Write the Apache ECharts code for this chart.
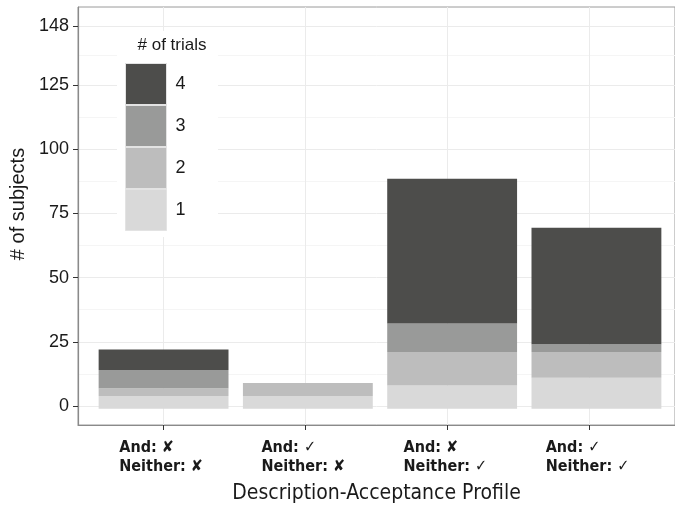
<!DOCTYPE html>
<html>
<head>
<meta charset="utf-8">
<script src="https://cdn.jsdelivr.net/npm/echarts@6/dist/echarts.min.js"></script>
<style>html,body{margin:0;padding:0;background:#fff;}#c{width:675px;height:509px;}</style>
</head>
<body>
<div id="c"></div>
<script>
// ---- data ----
const categories = ['And: ✘\nNeither: ✘', 'And: ✓\nNeither: ✘', 'And: ✘\nNeither: ✓', 'And: ✓\nNeither: ✓'];
const trialLevels = ['1', '2', '3', '4'];
const trials1 = [5, 5, 9, 12];
const trials2 = [3, 5, 13, 10];
const trials3 = [7, 0, 11, 3];
const trials4 = [8, 0, 56, 45];
const yTicks = [0, 25, 50, 75, 100, 125, 148];
const yMinorTicks = [12.5, 37.5, 62.5, 87.5, 112.5, 136.5];
const xTitle = 'Description-Acceptance Profile';
const yTitle = '# of subjects';
const legendTitle = '# of trials';

const layers = [trials1, trials2, trials3, trials4];
const colors = ['#d9d9d9', '#bdbdbd', '#999a99', '#4d4d4b'];
const xPos = categories.map((_, i) => i + 1);

// panel geometry (ggplot-style discrete expansion of 0.6 category each side)
const W = 675, PANEL_L = 77, PANEL_R = 683, PANEL_T = 7, PANEL_B = 428;
const step = (PANEL_R - PANEL_L) / 4.2;
const barL = PANEL_L + 0.1 * step;
const barR = PANEL_R - 0.1 * step;

const chart = echarts.init(document.getElementById('c'), null, {renderer: 'canvas'});
const labelFont = '"DejaVu Sans Condensed", "DejaVu Sans", sans-serif';
const numFont = '"Liberation Sans", Arial, sans-serif';
const yMin = -7.4, yMax = 155.4;

const option = {
  animation: false,
  backgroundColor: '#ffffff',
  grid: [
    {
      left: PANEL_L, top: PANEL_T, right: W - PANEL_R, bottom: 509 - PANEL_B,
      show: true, borderColor: '#9a9a9a', borderWidth: 1, backgroundColor: '#ffffff'
    },
    {
      left: barL, top: PANEL_T, right: W - barR, bottom: 509 - PANEL_B
    }
  ],
  graphic: [
    { type: 'rect', z: 3, shape: {x: 117, y: 31, width: 101, height: 206}, style: {fill: '#ffffff'} },
    { type: 'text', z: 5, x: 172, y: 37, style: {text: legendTitle, fill: '#1a1a1a', font: '17px ' + numFont, textAlign: 'center', textVerticalAlign: 'top'} }
  ],
  legend: {
    z: 6,
    data: ['4', '3', '2', '1'],
    orient: 'vertical',
    left: 125, top: 63,
    padding: 0,
    itemWidth: 41, itemHeight: 41, itemGap: 0,
    icon: 'rect',
    itemStyle: {borderColor: '#e3e3e3', borderWidth: 1},
    textStyle: {fontFamily: numFont, fontSize: 18, color: '#1a1a1a', padding: [0, 0, 0, 4]}
  },
  xAxis: [
    {
      gridIndex: 0, type: 'value', min: 0.4, max: 4.6,
      name: xTitle, nameLocation: 'middle', nameGap: 58,
      nameTextStyle: {fontFamily: labelFont, fontSize: 21, color: '#1a1a1a'},
      axisLine: {show: true, onZero: false, lineStyle: {color: '#8a8a8a', width: 1.2}},
      axisTick: {show: true, customValues: xPos, length: 5, lineStyle: {color: '#333'}},
      axisLabel: {
        customValues: xPos, margin: 13,
        formatter: v => categories[Math.round(v) - 1].split('\n').map(s => '{a|' + s + '}').join('\n'),
        rich: {a: {width: 88, align: 'left', fontFamily: labelFont, fontSize: 16, fontWeight: 'bold', lineHeight: 19, color: '#1a1a1a'}}
      },
      splitLine: {show: true, lineStyle: {color: '#ebebeb', width: 1}}
    },
    {
      gridIndex: 1, type: 'category', data: categories, show: false
    }
  ],
  yAxis: [
    {
      gridIndex: 0, type: 'value', min: yMin, max: yMax,
      name: yTitle, nameLocation: 'middle', nameGap: 50, nameRotate: 90,
      nameTextStyle: {fontFamily: numFont, fontSize: 20, color: '#1a1a1a', padding: [0, 0, 0, 24]},
      axisLine: {show: true, lineStyle: {color: '#8a8a8a', width: 1.2}},
      axisTick: {show: true, customValues: yTicks, length: 5, lineStyle: {color: '#333'}},
      axisLabel: {customValues: yTicks, margin: 9, fontFamily: numFont, fontSize: 18, color: '#1a1a1a'},
      splitLine: {show: true, lineStyle: {color: '#ebebeb', width: 1}}
    },
    {
      gridIndex: 0, type: 'value', min: yMin, max: yMax, position: 'left',
      axisLine: {show: false}, axisLabel: {show: false},
      axisTick: {show: false, customValues: yMinorTicks},
      splitLine: {show: true, lineStyle: {color: '#f5f5f5', width: 1}}
    },
    {
      gridIndex: 1, type: 'value', min: yMin, max: yMax, show: false
    }
  ],
  series: trialLevels.map((name, k) => ({
    name: name,
    type: 'bar',
    xAxisIndex: 1,
    yAxisIndex: 2,
    stack: 'total',
    barWidth: '90%',
    itemStyle: {color: colors[k]},
    data: layers[k]
  }))
};
chart.setOption(option);
</script>
</body>
</html>
